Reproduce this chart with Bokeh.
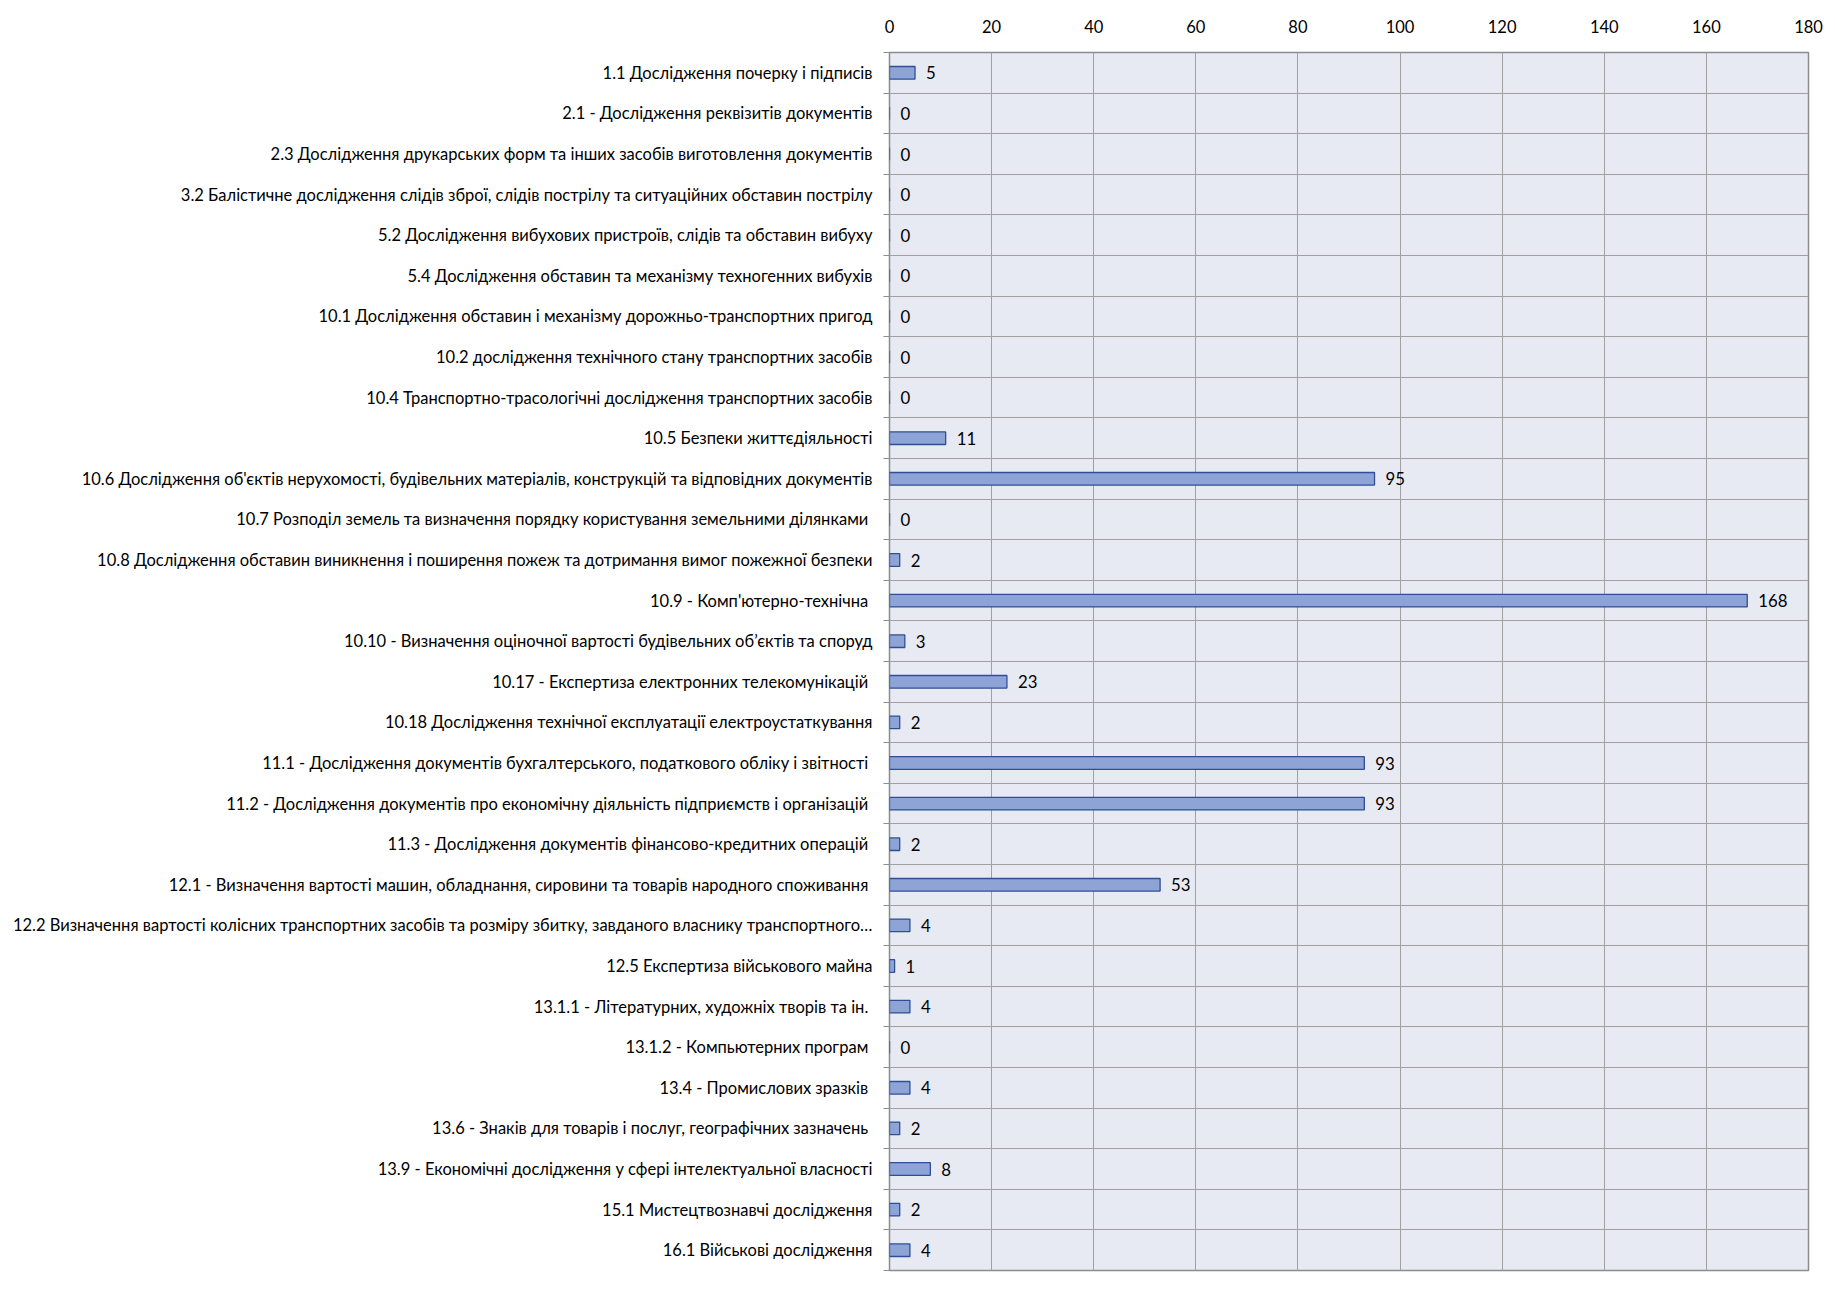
from bokeh.plotting import figure
from bokeh.models import Range1d, FixedTicker, ColumnDataSource
from bokeh.core.properties import value
from bokeh.embed import file_html
from bokeh.resources import INLINE

categories = [
    "1.1 Дослідження почерку і підписів",
    "2.1 - Дослідження реквізитів документів",
    "2.3 Дослідження друкарських форм та інших засобів виготовлення документів",
    "3.2 Балістичне дослідження слідів зброї, слідів пострілу та ситуаційних обставин пострілу",
    "5.2 Дослідження вибухових пристроїв, слідів та обставин вибуху",
    "5.4 Дослідження обставин та механізму техногенних вибухів",
    "10.1 Дослідження обставин і механізму дорожньо-транспортних пригод",
    "10.2 дослідження технічного стану транспортних засобів",
    "10.4 Транспортно-трасологічні дослідження транспортних засобів",
    "10.5 Безпеки життєдіяльності",
    "10.6 Дослідження об'єктів нерухомості, будівельних матеріалів, конструкцій та відповідних документів",
    "10.7 Розподіл земель та визначення порядку користування земельними ділянками ",
    "10.8 Дослідження обставин виникнення і поширення пожеж та дотримання вимог пожежної безпеки",
    "10.9 - Комп'ютерно-технічна ",
    "10.10 - Визначення оціночної вартості будівельних об’єктів та споруд",
    "10.17 - Експертиза електронних телекомунікацій ",
    "10.18 Дослідження технічної експлуатації електроустаткування",
    "11.1 - Дослідження документів бухгалтерського, податкового обліку і звітності ",
    "11.2 - Дослідження документів про економічну діяльність підприємств і організацій ",
    "11.3 - Дослідження документів фінансово-кредитних операцій ",
    "12.1 - Визначення вартості машин, обладнання, сировини та товарів народного споживання ",
    "12.2 Визначення вартості колісних транспортних засобів та розміру збитку, завданого власнику транспортного…",
    "12.5 Експертиза військового майна",
    "13.1.1 - Літературних, художніх творів та ін. ",
    "13.1.2 - Компьютерних програм ",
    "13.4 - Промислових зразків ",
    "13.6 - Знаків для товарів і послуг, географічних зазначень ",
    "13.9 - Економічні дослідження у сфері інтелектуальної власності",
    "15.1 Мистецтвознавчі дослідження",
    "16.1 Військові дослідження",
]
counts = [5, 0, 0, 0, 0, 0, 0, 0, 0, 11, 95, 0, 2, 168, 3, 23, 2, 93, 93, 2, 53, 4, 1, 4, 0, 4, 2, 8, 2, 4]
x_ticks = [0, 20, 40, 60, 80, 100, 120, 140, 160, 180]

FONT = "Lato"
n = len(categories)
pos = list(range(n))
source = ColumnDataSource(dict(y=pos, v=counts, lab=[str(c) for c in counts]))

p = figure(width=1827, height=1280, output_backend="svg", toolbar_location=None,
           x_range=Range1d(x_ticks[0], x_ticks[-1]), y_range=Range1d(n - 0.5, -0.5),
           x_axis_location="above",
           min_border_left=889, min_border_right=19, min_border_top=52, min_border_bottom=10)

p.background_fill_color = "#E8EAF3"
p.border_fill_color = "white"
p.outline_line_color = "#8C8C8C"
p.outline_line_width = 1.5

p.hbar(y="y", left=0, right="v", height=0.31, source=source,
       fill_color="#8EA3D6", line_color="#2E4F94", line_width=1.3)
p.text(x="v", y="y", text="lab", source=source, x_offset=11,
       text_baseline="middle", text_align="left",
       text_font=value(FONT), text_font_size="16.8px", text_color="black")

# x axis (top)
xa = p.xaxis[0]
xa.ticker = FixedTicker(ticks=x_ticks)
xa.axis_line_color = None
xa.major_tick_line_color = None
xa.minor_tick_line_color = None
xa.major_label_standoff = 14
xa.major_label_text_font = FONT
xa.major_label_text_font_size = "16.5px"
xa.major_label_text_color = "black"

# y axis (categories)
boundaries = [i - 0.5 for i in range(n + 1)]
ya = p.yaxis[0]
ya.ticker = FixedTicker(ticks=pos, minor_ticks=boundaries)
ya.major_label_overrides = {i: categories[i] for i in pos}
ya.axis_line_color = None
ya.major_tick_line_color = None
ya.minor_tick_line_color = "#8C8C8C"
ya.minor_tick_out = 6
ya.minor_tick_in = 0
ya.major_label_standoff = 11
ya.major_label_text_font = FONT
ya.major_label_text_font_size = "16.5px"
ya.major_label_text_color = "black"

p.xgrid.ticker = FixedTicker(ticks=x_ticks)
p.xgrid.grid_line_color = "#A0A0A0"
p.ygrid.ticker = FixedTicker(ticks=boundaries)
p.ygrid.grid_line_color = "#A0A0A0"

open("out.html", "w").write(file_html(p, INLINE))
